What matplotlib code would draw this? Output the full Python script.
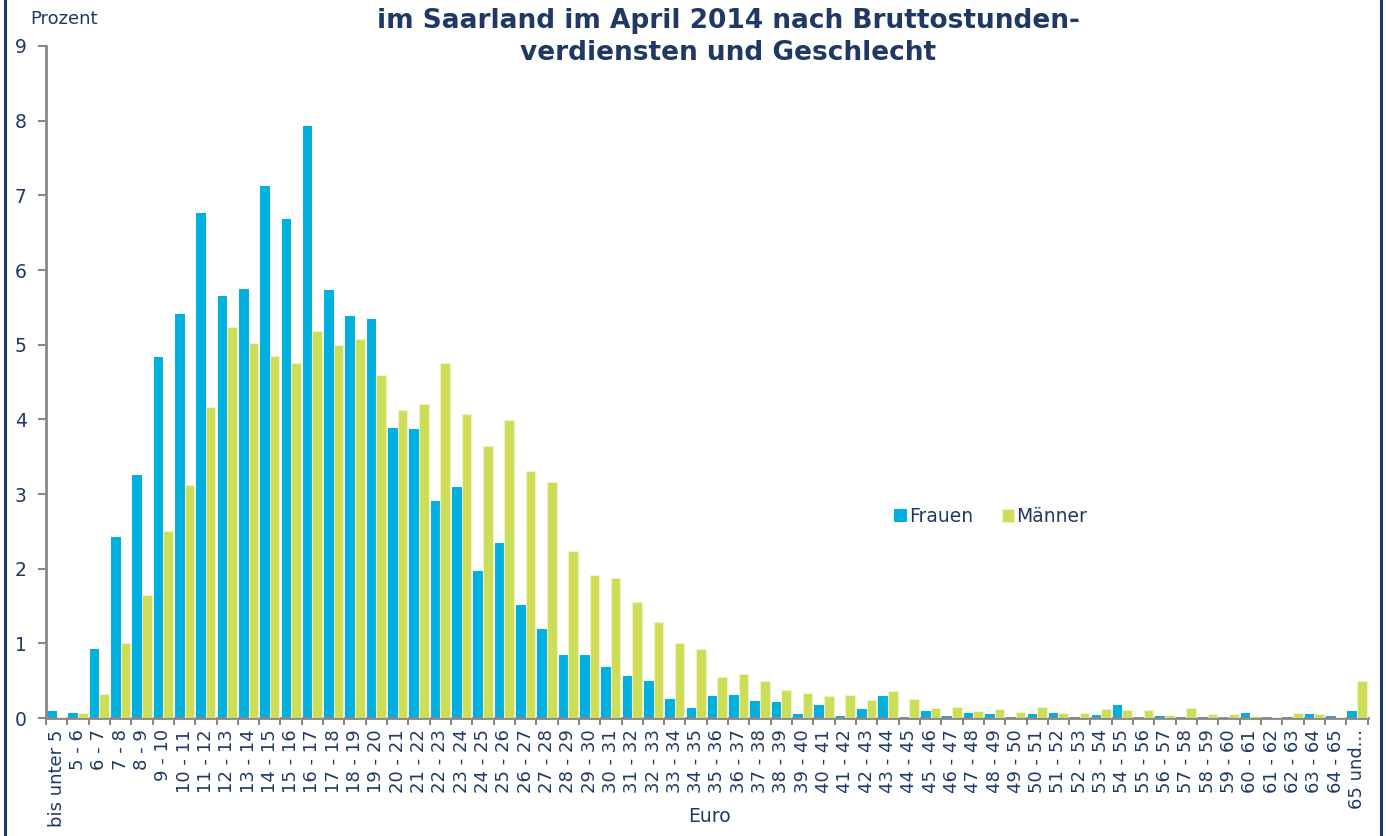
import matplotlib.pyplot as plt
import numpy as np
from matplotlib.lines import Line2D

# Kategorien (Bruttostundenverdienst in Euro)
kategorien = ['bis unter 5'] + ['%d - %d' % (a, a + 1) for a in range(5, 65)] + ['65 und...']

frauen = [0.10, 0.07, 0.92, 2.42, 3.25, 4.84, 5.41, 6.77, 5.65, 5.74,
          7.12, 6.68, 7.93, 5.73, 5.38, 5.35, 3.89, 3.87, 2.90, 3.10,
          1.97, 2.35, 1.51, 1.19, 0.84, 0.84, 0.68, 0.56, 0.49, 0.26,
          0.14, 0.29, 0.31, 0.23, 0.22, 0.05, 0.17, 0.03, 0.12, 0.29,
          0.02, 0.10, 0.03, 0.07, 0.05, 0.02, 0.06, 0.07, 0.02, 0.04,
          0.17, 0.00, 0.03, 0.015, 0.02, 0.00, 0.07, 0.00, 0.02, 0.05,
          0.03, 0.09]

maenner = [0.02, 0.07, 0.32, 1.01, 1.65, 2.51, 3.12, 4.17, 5.23, 5.02,
           4.85, 4.76, 5.18, 4.99, 5.07, 4.60, 4.13, 4.20, 4.75, 4.07,
           3.64, 3.99, 3.31, 3.16, 2.24, 1.91, 1.87, 1.56, 1.28, 1.01,
           0.93, 0.55, 0.59, 0.50, 0.37, 0.33, 0.29, 0.31, 0.24, 0.36,
           0.26, 0.13, 0.15, 0.09, 0.12, 0.08, 0.15, 0.07, 0.07, 0.12,
           0.11, 0.11, 0.04, 0.14, 0.055, 0.055, 0.03, 0.015, 0.07, 0.055,
           0.015, 0.49]

blau = '#00B0DE'
gruen = '#CEDD58'
navy = '#1F3864'
grau = '#888888'

fig = plt.figure(figsize=(13.86, 8.36), dpi=100)
ax = fig.add_axes([0.0332, 0.1411, 0.9535, 0.8039])

x = np.arange(len(kategorien))
w = 0.45
ax.bar(x - w / 2, frauen, w, color=blau, label='Frauen', zorder=2)
ax.bar(x + w / 2, maenner, w, color=gruen, edgecolor='#EEF3C8', linewidth=0.8, label='Männer', zorder=3)

ax.set_xlim(-0.5, len(kategorien) - 0.5)
ax.set_ylim(0, 9)
ax.set_yticks(range(0, 10))

ax.set_xticks(x)
ax.set_xticklabels(kategorien, rotation=90, fontsize=13, color=navy)
ax.set_xticks(np.arange(-0.5, len(kategorien), 1), minor=True)
ax.tick_params(axis='x', which='major', length=0, pad=8)
ax.tick_params(axis='x', which='minor', length=5, width=1.5, color=grau)
ax.tick_params(axis='y', length=6, width=1.5, color=grau, labelsize=13.5, labelcolor=navy, pad=8)

for s in ['top', 'right']:
    ax.spines[s].set_visible(False)
for s in ['left', 'bottom']:
    ax.spines[s].set_color(grau)
    ax.spines[s].set_linewidth(2)

ax.legend(loc='center', bbox_to_anchor=(0.715, 0.30), ncol=2, frameon=False,
          fontsize=13.5, labelcolor=navy, handlelength=0.65, handleheight=0.65,
          handletextpad=0.15, columnspacing=1.5)

fig.text(0.5255, 0.99, 'im Saarland im April 2014 nach Bruttostunden-\nverdiensten und Geschlecht',
         ha='center', va='top', fontsize=19, fontweight='bold', color=navy, linespacing=1.3)
fig.text(0.022, 0.977, 'Prozent', ha='left', va='center', fontsize=13, color=navy)
fig.text(0.512, 0.023, 'Euro', ha='center', va='center', fontsize=13.5, color=navy)

# Rahmen links und rechts
fig.add_artist(Line2D([0.0036, 0.0036], [0, 1], transform=fig.transFigure, color=navy, linewidth=2.2))
fig.add_artist(Line2D([0.9965, 0.9965], [0, 1], transform=fig.transFigure, color=navy, linewidth=2.2))

fig.savefig('out.png', dpi=100)
